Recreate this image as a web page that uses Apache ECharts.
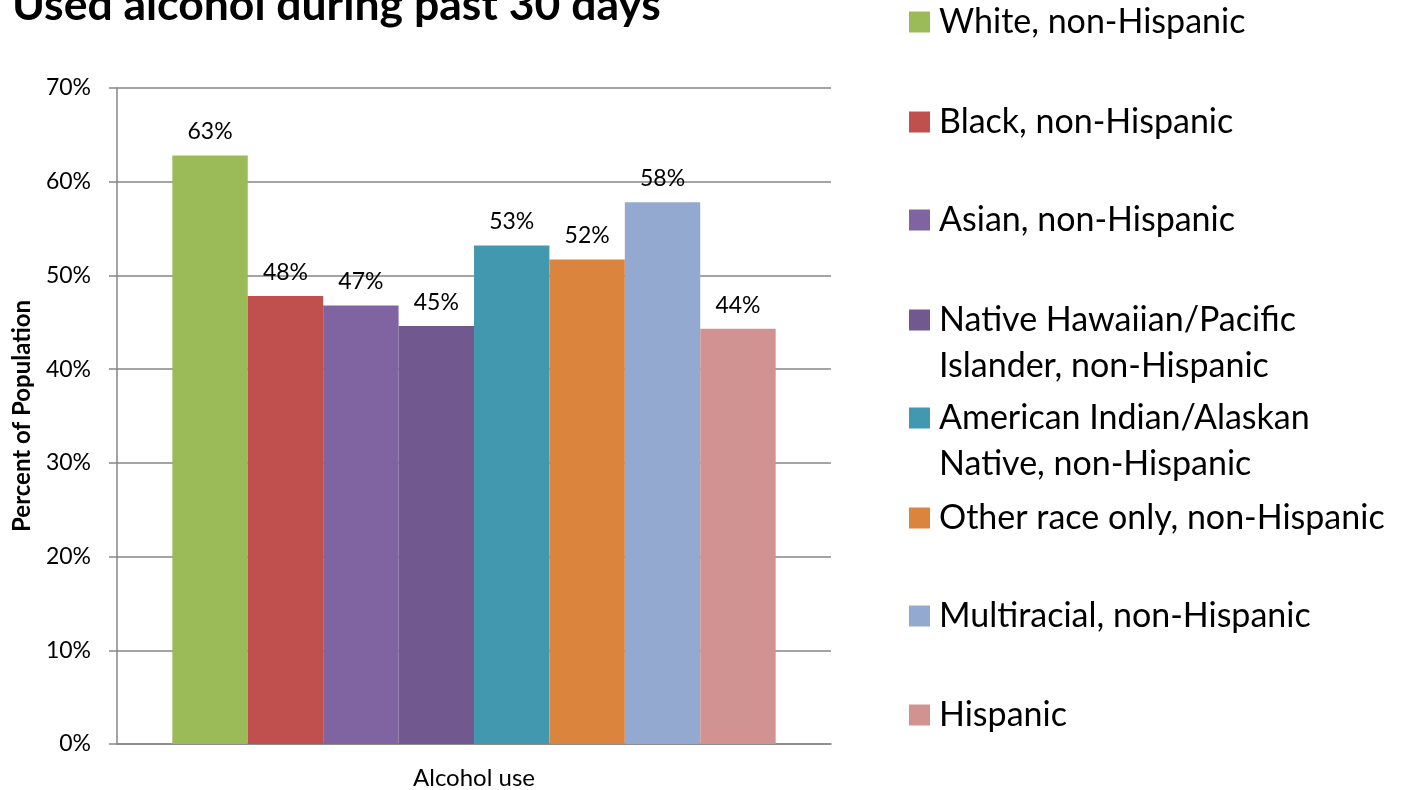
<!DOCTYPE html>
<html>
  <head>
    <title></title>
    <meta charset="UTF-8" />
    <script src="https://cdn.jsdelivr.net/npm/echarts@6/dist/echarts.min.js"></script>
  </head>
  <body style="margin: 0">
    <div id="main"></div>
    <script>
      const width = 1404;
      const height = 790;
      const main = document.getElementById('main');
      main.style.width = `${width}px`;
      main.style.height = `${height}px`;

      const categories = ['Alcohol use'];
      const groups = [
        'White, non-Hispanic',
        'Black, non-Hispanic',
        'Asian, non-Hispanic',
        'Native Hawaiian/Pacific Islander, non-Hispanic',
        'American Indian/Alaskan Native, non-Hispanic',
        'Other race only, non-Hispanic',
        'Multiracial, non-Hispanic',
        'Hispanic',
      ];
      // legend text split the way it wraps in the original
      const legendLine1 = [
        'White, non-Hispanic',
        'Black, non-Hispanic',
        'Asian, non-Hispanic',
        'Native Hawaiian/Pacific',
        'American Indian/Alaskan',
        'Other race only, non-Hispanic',
        'Multiracial, non-Hispanic',
        'Hispanic',
      ];
      const legendLine2 = ['', '', '', 'Islander, non-Hispanic', 'Native, non-Hispanic', '', '', ''];
      const values = [62.8, 47.8, 46.8, 44.6, 53.2, 51.7, 57.8, 44.3];
      const colors = ['#9BBB59', '#C0504D', '#8064A2', '#71588F', '#4198AF', '#DB843D', '#93A9CF', '#D19392'];
      const yTicks = [0, 10, 20, 30, 40, 50, 60, 70];

      const font = 'Lato, "Open Sans", sans-serif';
      const legendTops = [-1, 99, 197, 297, 395, 495, 593, 692];
      const lineH = 46;

      const legendStyle = {
        fontFamily: font,
        fontSize: 34,
        lineHeight: lineH,
        color: '#000',
        padding: [0, 0, 0, 4],
      };

      const legends = [];
      groups.forEach((g, i) => {
        legends.push({
          data: [g],
          left: 909,
          top: legendTops[i],
          padding: 0,
          itemWidth: 21,
          itemHeight: 21,
          icon: 'rect',
          formatter: () => legendLine1[i],
          textStyle: legendStyle,
          selectedMode: false,
        });
        // second line of a wrapped entry, with a hidden marker
        if (legendLine2[i]) {
          legends.push({
            data: [g],
            left: 909,
            top: legendTops[i] + lineH,
            padding: 0,
            itemWidth: 21,
            itemHeight: 21,
            icon: 'rect',
            itemStyle: { opacity: 0 },
            formatter: () => legendLine2[i],
            textStyle: legendStyle,
            selectedMode: false,
          });
        }
      });

      const myChart = echarts.init(main);
      const option = {
        animation: false,
        color: colors,
        title: {
          text: 'Used alcohol during past 30 days',
          left: 12,
          top: -17,
          padding: 0,
          textStyle: { fontFamily: font, fontSize: 44.5, fontWeight: 'bold', color: '#000' },
        },
        legend: legends,
        grid: { left: 117, right: 573, top: 88, bottom: 45 },
        xAxis: {
          type: 'category',
          data: categories,
          axisLine: { lineStyle: { color: '#868686', width: 1.5 } },
          axisTick: { show: false },
          axisLabel: { fontFamily: font, fontSize: 24, color: '#000', margin: 22 },
        },
        yAxis: {
          type: 'value',
          min: yTicks[0],
          max: yTicks[yTicks.length - 1],
          interval: 10,
          name: 'Percent of Population',
          nameLocation: 'middle',
          nameGap: 83,
          nameTextStyle: { fontFamily: font, fontSize: 24, fontWeight: 'bold', color: '#000' },
          axisLine: { show: true, lineStyle: { color: '#868686', width: 1.5 } },
          axisTick: { show: true, length: 8, lineStyle: { color: '#868686', width: 1.5 } },
          splitLine: { lineStyle: { color: '#868686', width: 1.5 } },
          axisLabel: { formatter: '{value}%', fontFamily: font, fontSize: 23, color: '#000', margin: 26 },
        },
        series: groups.map((g, i) => ({
          name: g,
          type: 'bar',
          data: [values[i]],
          barGap: '0%',
          barCategoryGap: '15.5%',
          itemStyle: { color: colors[i] },
          label: {
            show: true,
            position: 'top',
            distance: 12,
            formatter: (p) => `${Math.round(p.value)}%`,
            fontFamily: font,
            fontSize: 23,
            color: '#000',
          },
        })),
      };
      myChart.setOption(option);
    </script>
  </body>
</html>
